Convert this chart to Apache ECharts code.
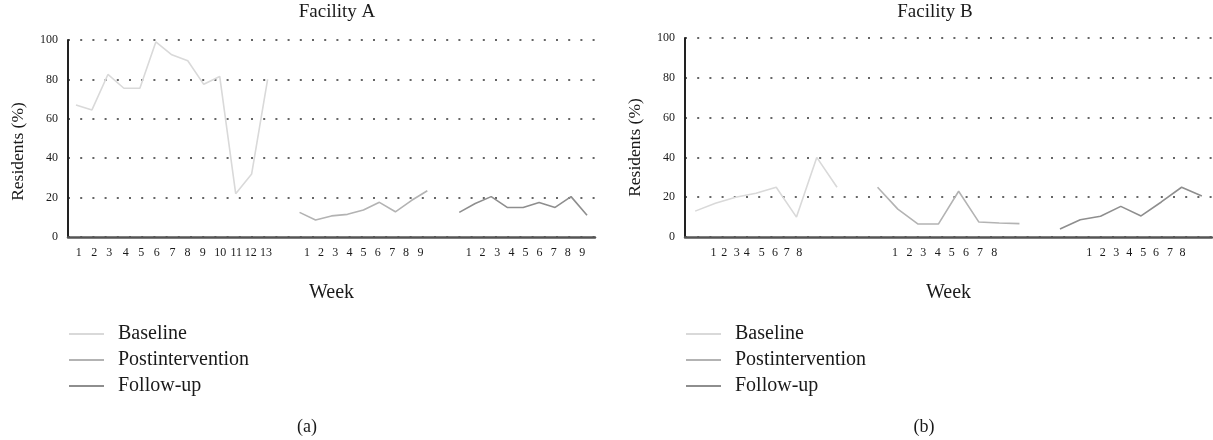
<!DOCTYPE html>
<html>
<head>
<meta charset="utf-8">
<script src="https://cdn.jsdelivr.net/npm/echarts@6/dist/echarts.min.js"></script>
<style>html,body{margin:0;padding:0;background:#fff;}#c{width:1213px;height:440px;}</style>
</head>
<body>
<div id="c"></div>
<script>
// ---- Data ----
const seriesNames = ['Baseline', 'Postintervention', 'Follow-up'];
const baselineA = [67, 64.5, 82.5, 75.5, 75.5, 99, 92.5, 89.5, 77.5, 81.5, 22, 32, 80];
const postA     = [12.5, 8.6, 10.7, 11.5, 13.7, 17.6, 12.8, 18.5, 23.5];
const followA   = [12.5, 17, 20.5, 15, 15, 17.5, 15, 20.5, 11];
const baselineB = [13, 17, 20, 22, 25, 10, 40, 25];
const postB     = [25, 14, 6.5, 6.5, 23, 7.5, 7, 6.7];
const followB   = [4, 8.7, 10.4, 15.4, 10.6, 17.6, 25, 20.6];
// week slot where each phase starts on the shared week axis
const phaseStartA = [0, 14, 24];
const phaseStartB = [0, 9, 18];
const slotRangeA = [-0.5, 32.5];
const slotRangeB = [-0.5, 25.5];
// x tick labels and where they sit on the week axis
const tickTextA = ['1','2','3','4','5','6','7','8','9','10','11','12','13',
                   '1','2','3','4','5','6','7','8','9',
                   '1','2','3','4','5','6','7','8','9'];
const tickPosA  = [0.17,1.15,2.09,3.12,4.08,5.06,6.04,6.98,7.94,9.03,10.03,10.95,11.9,
                   14.46,15.34,16.24,17.13,18.0,18.9,19.8,20.67,21.57,
                   24.6,25.45,26.38,27.27,28.15,29.03,29.92,30.8,31.7];
const tickTextB = ['1','2','3','4','5','6','7','8',
                   '1','2','3','4','5','6','7','8',
                   '1','2','3','4','5','6','7','8'];
const tickPosB  = [0.9,1.44,2.05,2.55,3.29,3.94,4.52,5.14,
                   9.86,10.57,11.26,11.97,12.66,13.36,14.06,14.76,
                   19.45,20.11,20.77,21.42,22.11,22.74,23.43,24.05];
const yMin = 0, yMax = 100, yStep = 20;
const titles = ['Facility A', 'Facility B'];
const panelTags = ['(a)', '(b)'];

// ---- Styles ----
const FONT = "'Liberation Serif', 'DejaVu Serif', serif";
const TXT = '#1a1a1a';
const colors = ['#d9d9d9', '#b3b3b3', '#8e8e8e'];

function pts(vals, start) { return vals.map((v, i) => [start + i, v]); }

function xAxisFor(gridIndex, range, pos, text) {
  return {
    type: 'value', gridIndex, min: range[0], max: range[1],
    name: 'Week', nameLocation: 'middle', nameGap: 46,
    nameTextStyle: { fontFamily: FONT, fontSize: 20, color: TXT },
    axisLine: { show: true, onZero: false, lineStyle: { color: '#555', width: 2.5 } },
    axisTick: { show: false },
    splitLine: { show: false },
    axisLabel: {
      customValues: pos,
      margin: 10,
      fontFamily: FONT, fontSize: 12, color: TXT,
      formatter: function (val) {
        const i = pos.findIndex(p => Math.abs(p - val) < 1e-6);
        return i >= 0 ? text[i] : '';
      }
    }
  };
}
function yAxisFor(gridIndex, shift) {
  return {
    type: 'value', gridIndex, min: yMin, max: yMax, interval: yStep,
    name: 'Residents (%)', nameLocation: 'middle', nameGap: 41, nameRotate: 90,
    nameTextStyle: { fontFamily: FONT, fontSize: 17.5, color: TXT, padding: [0, shift, 0, 0] },
    axisLine: { show: true, onZero: false, lineStyle: { color: '#222', width: 2 } },
    axisTick: { show: false },
    axisLabel: { margin: 10, fontFamily: FONT, fontSize: 12, color: TXT },
    splitLine: { show: true, lineStyle: { color: '#666', width: 2, type: [2, 10.2] } }
  };
}
function lineSeries(name, data, idx, color) {
  return {
    name, type: 'line', data, xAxisIndex: idx, yAxisIndex: idx,
    symbol: 'none', lineStyle: { color, width: 1.6 }, itemStyle: { color },
    animation: false, z: 3
  };
}
function legendFor(left) {
  return {
    data: seriesNames, orient: 'vertical', left, top: 324, padding: 0,
    itemWidth: 35, itemHeight: 14, itemGap: 6,
    itemStyle: { opacity: 0, borderWidth: 0 },
    textStyle: { fontFamily: FONT, fontSize: 20, color: TXT, padding: [0, 0, 0, 9] },
    selectedMode: false
  };
}

const chart = echarts.init(document.getElementById('c'), null, { renderer: 'canvas' });
const titleStyle = { fontFamily: FONT, fontSize: 19, fontWeight: 'normal', color: TXT };
chart.setOption({
  backgroundColor: '#fff',
  animation: false,
  title: [
    { text: titles[0], left: 332, top: -2, textAlign: 'center', textStyle: titleStyle },
    { text: titles[1], left: 930, top: -2, textAlign: 'center', textStyle: titleStyle },
    { text: panelTags[0], left: 302, top: 413, textAlign: 'center', textStyle: { ...titleStyle, fontSize: 18 } },
    { text: panelTags[1], left: 919, top: 413, textAlign: 'center', textStyle: { ...titleStyle, fontSize: 18 } }
  ],
  legend: [legendFor(68), legendFor(685)],
  grid: [
    { left: 68, top: 40, width: 527, height: 197, containLabel: false },
    { left: 685, top: 38, width: 527, height: 199, containLabel: false }
  ],
  xAxis: [xAxisFor(0, slotRangeA, tickPosA, tickTextA), xAxisFor(1, slotRangeB, tickPosB, tickTextB)],
  yAxis: [yAxisFor(0, 26), yAxisFor(1, 20)],
  series: [
    lineSeries(seriesNames[0], pts(baselineA, phaseStartA[0]), 0, colors[0]),
    lineSeries(seriesNames[1], pts(postA, phaseStartA[1]), 0, colors[1]),
    lineSeries(seriesNames[2], pts(followA, phaseStartA[2]), 0, colors[2]),
    lineSeries(seriesNames[0], pts(baselineB, phaseStartB[0]), 1, colors[0]),
    lineSeries(seriesNames[1], pts(postB, phaseStartB[1]), 1, colors[1]),
    lineSeries(seriesNames[2], pts(followB, phaseStartB[2]), 1, colors[2])
  ]
});
</script>
</body>
</html>
